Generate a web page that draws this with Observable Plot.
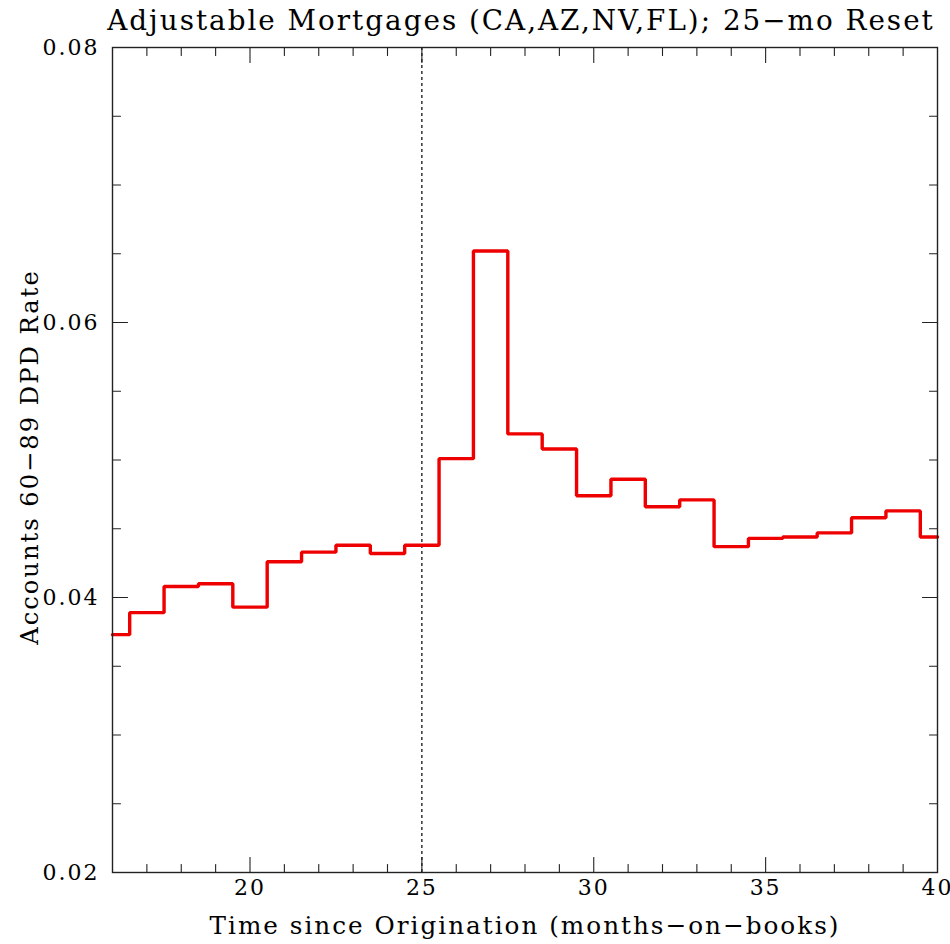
<!DOCTYPE html>
<html>
<head>
<meta charset="utf-8">
<script src="https://cdn.jsdelivr.net/npm/d3@7"></script>
<script src="https://cdn.jsdelivr.net/npm/@observablehq/plot@0.6"></script>
<style>
  html, body { margin: 0; padding: 0; background: #fff; }
</style>
</head>
<body>
<div id="chart"></div>
<script>
// Months on books and the 60–89 days-past-due account rate for each month
const months = [16, 17, 18, 19, 20, 21, 22, 23, 24, 25, 26, 27, 28,
                29, 30, 31, 32, 33, 34, 35, 36, 37, 38, 39, 40];
const rates = [0.0373, 0.0389, 0.0408, 0.0410, 0.0393, 0.0426, 0.0433, 0.0438, 0.0432,
               0.0438, 0.0501, 0.0652, 0.0519, 0.0508, 0.0474, 0.0486, 0.0466, 0.0471,
               0.0437, 0.0443, 0.0444, 0.0447, 0.0458, 0.0463, 0.0444];

// Month at which the adjustable rate resets
const resetMonth = 25;

// Axis ranges and tick positions
const xDomain = [16, 40];
const yDomain = [0.02, 0.08];
const xLabelTicks = [20, 25, 30, 35, 40];
const yLabelTicks = [0.02, 0.04, 0.06, 0.08];
const xMajorTicks = [20, 25, 30, 35];
const xMinorTicks = [17, 18, 19, 21, 22, 23, 24, 26, 27, 28, 29, 31, 32, 33, 34, 36, 37, 38, 39];
const yMajorTicks = [0.04, 0.06];
const yMinorTicks = [0.025, 0.03, 0.035, 0.045, 0.05, 0.055, 0.065, 0.07, 0.075];

const titleText = "Adjustable Mortgages (CA,AZ,NV,FL); 25\u2212mo Reset";
const xLabelText = "Time since Origination (months\u2212on\u2212books)";
const yLabelText = "Accounts 60\u221289 DPD Rate";

const series = months.map((m, i) => ({month: m, rate: rates[i]}));

// A straight stroke used for the inward-pointing frame ticks
const tickShape = {
  draw(context, length) {
    context.moveTo(0, 0);
    context.lineTo(0, -length);
  }
};

const tickColor = "#222";
const majorLen = 15;
const minorLen = 8;

// Inward ticks on all four sides of the frame
function frameTicks(values, axis, length) {
  const sides = axis === "x"
    ? [["bottom", 0], ["top", 180]]
    : [["left", 90], ["right", -90]];
  return sides.map(([anchor, rotate]) =>
    Plot.vector(values, {
      [axis]: d => d,
      frameAnchor: anchor,
      anchor: "start",
      length,
      rotate,
      shape: tickShape,
      stroke: tickColor,
      strokeWidth: 1.1
    })
  );
}

const chart = Plot.plot({
  width: 950,
  height: 944,
  marginLeft: 112,
  marginRight: 13,
  marginTop: 47,
  marginBottom: 72,
  style: {
    fontFamily: "'DejaVu Serif', serif",
    fontSize: "22px",
    letterSpacing: "2px",
    color: "#000",
    background: "#fff",
    overflow: "visible"
  },
  x: {domain: xDomain},
  y: {domain: yDomain},
  marks: [
    // Reset month marker
    Plot.ruleX([resetMonth], {stroke: "#000", strokeWidth: 1.2, strokeDasharray: "3,3"}),

    // Delinquency rate as a step histogram centred on each month
    Plot.line(series, {
      x: "month",
      y: "rate",
      curve: "step",
      stroke: "#ee0000",
      strokeWidth: 3.4,
      strokeLinejoin: "miter"
    }),

    ...frameTicks(xMajorTicks, "x", majorLen),
    ...frameTicks(xMinorTicks, "x", minorLen),
    ...frameTicks(yMajorTicks, "y", majorLen),
    ...frameTicks(yMinorTicks, "y", minorLen),

    Plot.frame({stroke: tickColor, strokeWidth: 1.4}),

    Plot.axisX(xLabelTicks, {
      anchor: "bottom",
      tickSize: 0,
      tickPadding: 7,
      tickFormat: d => String(d),
      label: null
    }),
    Plot.axisY(yLabelTicks, {
      anchor: "left",
      tickSize: 0,
      tickPadding: 13,
      tickFormat: d3.format(".2f"),
      label: null
    }),

    // Title and axis titles
    Plot.text([titleText], {
      frameAnchor: "top",
      lineAnchor: "middle",
      dx: -4,
      dy: -26,
      fontSize: 27.8,
      text: d => d
    }),
    Plot.text([xLabelText], {
      frameAnchor: "bottom",
      lineAnchor: "middle",
      dy: 54,
      fontSize: 24.7,
      text: d => d
    }),
    Plot.text([yLabelText], {
      frameAnchor: "left",
      textAnchor: "middle",
      lineAnchor: "middle",
      dx: -82,
      dy: -3,
      rotate: -90,
      fontSize: 24.2,
      text: d => d
    })
  ]
});

document.getElementById("chart").appendChild(chart);
</script>
</body>
</html>
